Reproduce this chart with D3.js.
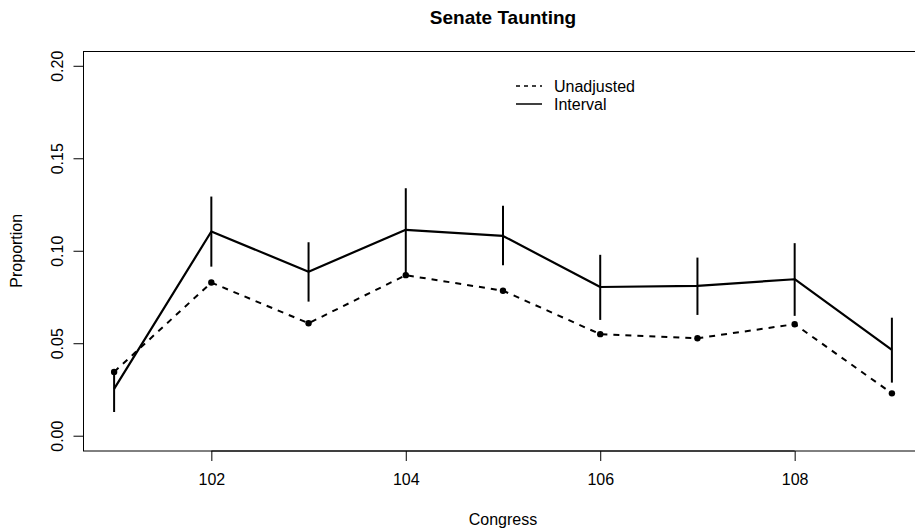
<!DOCTYPE html>
<html>
<head>
<meta charset="utf-8">
<script src="https://cdn.jsdelivr.net/npm/d3@7"></script>
<style>
  html, body { margin: 0; padding: 0; background: #fff; }
  svg { display: block; font-family: "Liberation Sans", Arial, Helvetica, sans-serif; }
</style>
</head>
<body>
<svg id="chart" width="915" height="529"></svg>
<script>
const congress   = [101, 102, 103, 104, 105, 106, 107, 108, 109];
const unadjusted = [0.0345, 0.0828, 0.0608, 0.0868, 0.0784, 0.0549, 0.0527, 0.0603, 0.0229];
const interval   = [0.0253, 0.1104, 0.0887, 0.1113, 0.1080, 0.0804, 0.0810, 0.0846, 0.0464];
const lower      = [0.0128, 0.0914, 0.0725, 0.0869, 0.0922, 0.0626, 0.0653, 0.0648, 0.0287];
const upper      = [0.0355, 0.1293, 0.1046, 0.1338, 0.1243, 0.0978, 0.0963, 0.1041, 0.0638];
const xTicks = [102, 104, 106, 108];
const yTicks = [0.00, 0.05, 0.10, 0.15, 0.20];
const yTickLabels = ["0.00", "0.05", "0.10", "0.15", "0.20"];
const legendLabels = ["Unadjusted", "Interval"];
const chartTitle = "Senate Taunting";
const xLabel = "Congress";
const yLabel = "Proportion";

(function () {
const svg = d3.select("#chart");
const pLeft = 83, pRight = 923, pTop = 51, pBottom = 450.5;

const x = d3.scaleLinear().domain([100.68, 109.32]).range([pLeft, pRight]);
const y = d3.scaleLinear().domain([-0.008, 0.208]).range([pBottom, pTop]);

// plot box
svg.append("rect")
  .attr("x", pLeft + 0.5).attr("y", pTop + 0.5)
  .attr("width", pRight - pLeft).attr("height", pBottom - pTop)
  .attr("fill", "none").attr("stroke", "#000").attr("stroke-width", 1);

// x axis
const xAxis = d3.axisBottom(x).tickValues(xTicks).tickSize(10).tickPadding(13)
  .tickFormat(d3.format("d"));
const gx = svg.append("g").attr("transform", `translate(0,${pBottom + 0.5})`).call(xAxis);
gx.select(".domain").attr("d", `M${x(xTicks[0])},0H${x(xTicks[xTicks.length-1])}`).attr("stroke", "#000");
gx.selectAll("text").attr("font-size", 16).attr("fill", "#000")
  .attr("font-family", "Liberation Sans, Arial, sans-serif");
gx.selectAll("line").attr("stroke", "#000");

// y axis
const yAxis = d3.axisLeft(y).tickValues(yTicks).tickSize(10).tickPadding(0)
  .tickFormat((d, i) => yTickLabels[i]);
const gy = svg.append("g").attr("transform", `translate(${pLeft + 0.5},0)`).call(yAxis);
gy.select(".domain").attr("d", `M0,${y(yTicks[0])}V${y(yTicks[yTicks.length-1])}`).attr("stroke", "#000");
gy.selectAll("line").attr("stroke", "#000");
gy.selectAll(".tick text")
  .attr("font-size", 16).attr("fill", "#000")
  .attr("font-family", "Liberation Sans, Arial, sans-serif")
  .attr("x", 0).attr("dy", null).attr("text-anchor", "middle")
  .attr("transform", "translate(-21,0) rotate(-90)");

// dashed unadjusted line
const line = d3.line();
const unPts = congress.map((c, i) => [x(c), y(unadjusted[i])]);
svg.append("path").attr("d", line(unPts)).attr("fill", "none")
  .attr("stroke", "#000").attr("stroke-width", 2).attr("stroke-dasharray", "6,6");
svg.selectAll(".dot").data(unPts).enter().append("circle")
  .attr("cx", d => d[0]).attr("cy", d => d[1]).attr("r", 3.2).attr("fill", "#000");

// solid interval line
const intPts = congress.map((c, i) => [x(c), y(interval[i])]);
svg.append("path").attr("d", line(intPts)).attr("fill", "none")
  .attr("stroke", "#000").attr("stroke-width", 2.2).attr("stroke-linejoin", "round");

// error bars
svg.selectAll(".bar").data(congress).enter().append("line")
  .attr("x1", d => x(d)).attr("x2", d => x(d))
  .attr("y1", (d, i) => y(lower[i])).attr("y2", (d, i) => y(upper[i]))
  .attr("stroke", "#000").attr("stroke-width", 2);

// legend
const lg = svg.append("g");
lg.append("line").attr("x1", 516).attr("x2", 542).attr("y1", 86).attr("y2", 86)
  .attr("stroke", "#000").attr("stroke-width", 1.3).attr("stroke-dasharray", "4,4");
lg.append("line").attr("x1", 516).attr("x2", 542).attr("y1", 104).attr("y2", 104)
  .attr("stroke", "#000").attr("stroke-width", 1.5);
lg.selectAll("text").data(legendLabels).enter().append("text")
  .attr("x", 554).attr("y", (d, i) => 92 + i * 18)
  .attr("font-size", 16).attr("fill", "#000").text(d => d);

// title & labels
svg.append("text").attr("x", (pLeft + pRight) / 2).attr("y", 24)
  .attr("text-anchor", "middle").attr("font-size", 19).attr("font-weight", "bold").text(chartTitle);
svg.append("text").attr("x", (pLeft + pRight) / 2).attr("y", 525)
  .attr("text-anchor", "middle").attr("font-size", 16).text(xLabel);
svg.append("text").attr("transform", `translate(22,${(pTop + pBottom) / 2}) rotate(-90)`)
  .attr("text-anchor", "middle").attr("font-size", 16).text(yLabel);
})();
</script>
</body>
</html>
